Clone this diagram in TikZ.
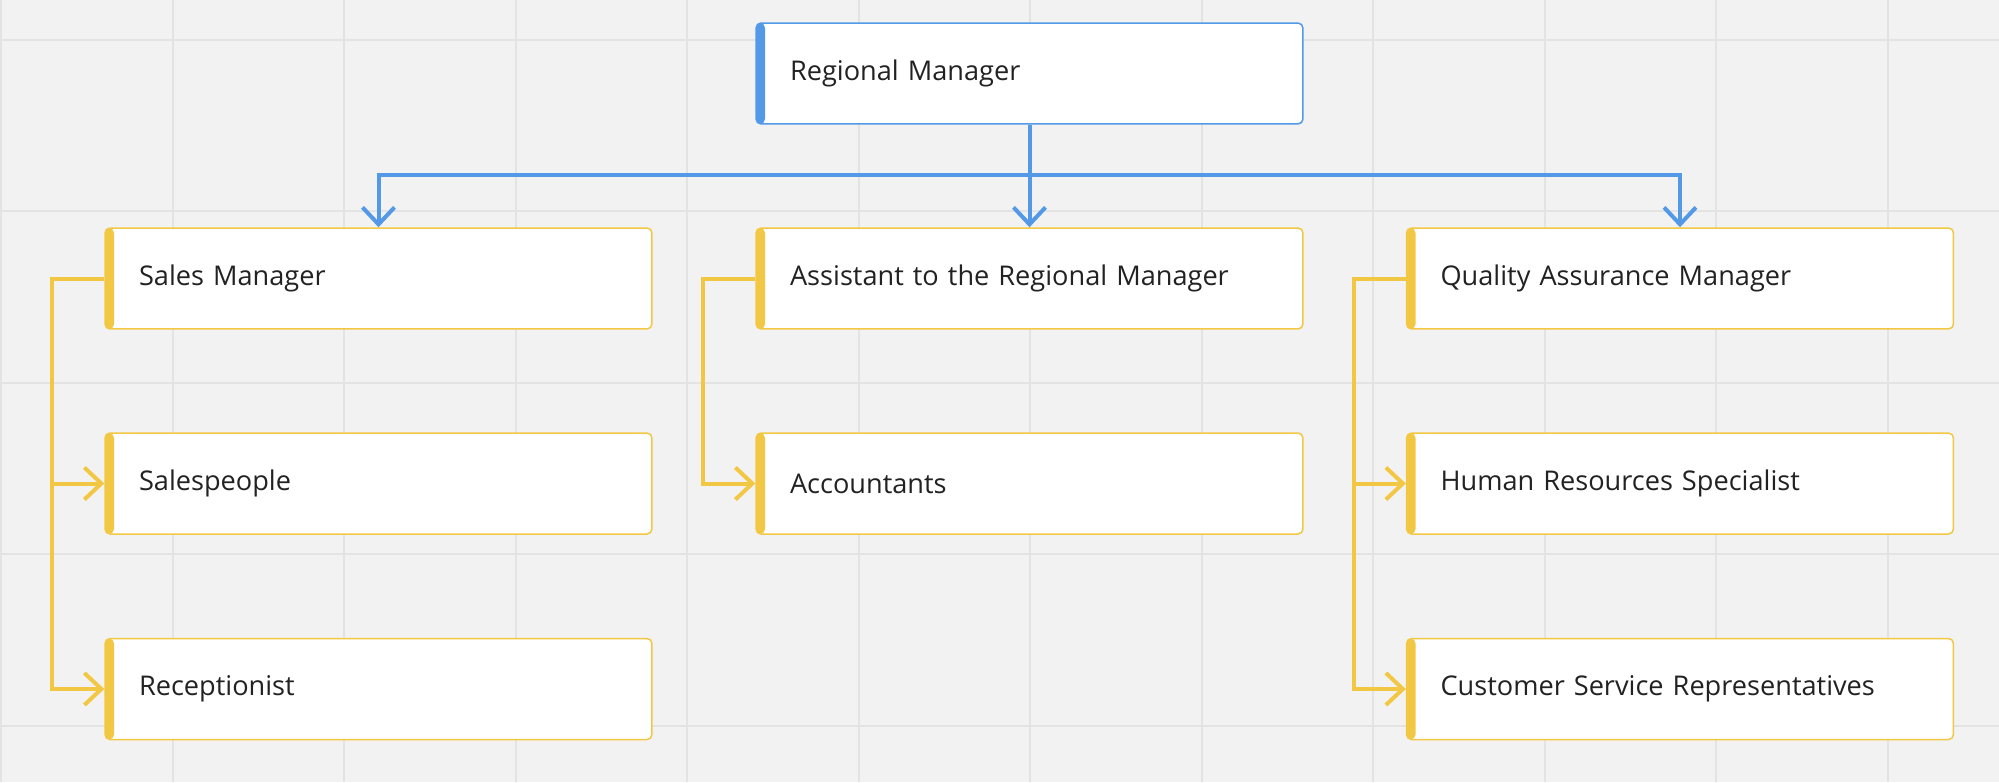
\documentclass[tikz,border=0pt]{standalone}
\usepackage{fontspec}
\setmainfont{Open Sans}
\usepackage{xcolor}
\usepackage{tikz}
\usetikzlibrary{arrows.meta}
\definecolor{boardcolor}{HTML}{F2F2F2}
\definecolor{gridcolor}{HTML}{E3E3E3}
\definecolor{headcolor}{HTML}{5499E8}
\definecolor{staffcolor}{HTML}{F2C744}
\definecolor{labelcolor}{HTML}{222222}

\tikzset{
  role/.style={draw=#1, fill=white, line width=0.03cm, rounded corners=0.1cm,
    minimum width=10.94cm, minimum height=2.02cm, inner xsep=0.68cm, text width=9.58cm,
    align=left, text=labelcolor, font=\fontsize{0.543cm}{0.65cm}\selectfont,
    path picture={\fill[#1] (path picture bounding box.south west) rectangle ([xshift=0.18cm]path picture bounding box.north west);}},
  headlink/.style={draw=headcolor, line width=0.08cm, -{Straight Barb[length=0.34cm, width=0.64cm]}},
  stafflink/.style={draw=staffcolor, line width=0.08cm, -{Straight Barb[length=0.34cm, width=0.64cm]}},
}

\begin{document}
\begin{tikzpicture}[x=0.02cm, y=-0.02cm]%
\useasboundingbox (0,0) rectangle (1999,782);%
\fill[boardcolor] (0,0) rectangle (1999,782);%
\foreach \gx in {1,172.5,...,1999} \draw[gridcolor, line width=0.04cm] (\gx,0) -- (\gx,782);%
\foreach \gy in {39.5,211,...,782} \draw[gridcolor, line width=0.04cm] (0,\gy) -- (1999,\gy);%
% top
\node[role=headcolor] (rm) at (1029.5, 73.5) {Regional Manager};%
% second row
\node[role=staffcolor] (sm) at (378.5, 278.5) {Sales Manager};%
\node[role=staffcolor] (am) at (1029.5, 278.5) {Assistant to the Regional Manager};%
\node[role=staffcolor] (qm) at (1680, 278.5) {Quality Assurance Manager};%
% third row
\node[role=staffcolor] (sp) at (378.5, 483.5) {Salespeople};%
\node[role=staffcolor] (ac) at (1029.5, 483.5) {Accountants};%
\node[role=staffcolor] (hr) at (1680, 483.5) {Human Resources Specialist};%
% fourth row
\node[role=staffcolor] (rc) at (378.5, 689) {Receptionist};%
\node[role=staffcolor] (cs) at (1680, 689) {Customer Service Representatives};%
% links
\coordinate (fork) at (1029.5, 175);%
\draw[headlink] (rm) -- (am);%
\draw[headlink] (fork) -| (sm);%
\draw[headlink] (fork) -| (qm);%
\draw[stafflink] (sm.west) -- ++(-52,0) |- (sp);%
\draw[stafflink] (sm.west) -- ++(-52,0) |- (rc);%
\draw[stafflink] (am.west) -- ++(-52,0) |- (ac);%
\draw[stafflink] (qm.west) -- ++(-52,0) |- (hr);%
\draw[stafflink] (qm.west) -- ++(-52,0) |- (cs);%
\end{tikzpicture}
\end{document}
